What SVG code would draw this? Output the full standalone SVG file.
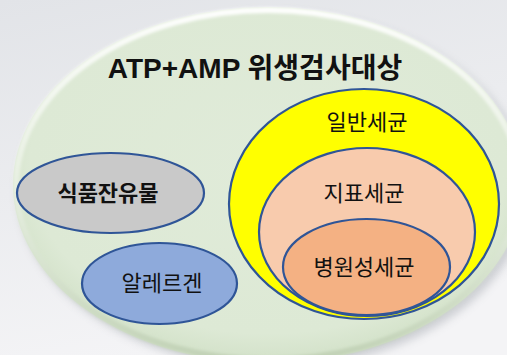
<svg xmlns="http://www.w3.org/2000/svg" width="507" height="355" viewBox="0 0 507 355">
<style>
.node{stroke:#2f5597;stroke-width:2.2}
.t{font-family:"Liberation Sans","Noto Sans CJK KR",sans-serif;fill:#111;text-anchor:middle;font-size:22px}
.b{font-weight:bold}
</style>
<defs>
<linearGradient id="bg" x1="0" y1="0" x2="0.3" y2="1">
<stop offset="0" stop-color="#e2e4e8"/>
<stop offset="1" stop-color="#f4f4f6"/>
</linearGradient>
<radialGradient id="plate" cx="0.5" cy="0.45" r="0.55">
<stop offset="0" stop-color="#e0ebd9"/>
<stop offset="0.85" stop-color="#dde9d5"/>
<stop offset="1" stop-color="#d2e1c8"/>
</radialGradient>
<linearGradient id="rim" x1="0" y1="0" x2="0" y2="1">
<stop offset="0" stop-color="#ffffff" stop-opacity="0.95"/>
<stop offset="0.45" stop-color="#f4f8f1" stop-opacity="0.6"/>
<stop offset="1" stop-color="#bccdb0" stop-opacity="0.8"/>
</linearGradient>
<filter id="blur" x="-10%" y="-10%" width="120%" height="120%"><feGaussianBlur stdDeviation="4"/></filter>
<filter id="soft" x="-10%" y="-10%" width="120%" height="120%"><feGaussianBlur stdDeviation="1.5"/></filter>
</defs>
<rect width="507" height="355" fill="url(#bg)"/>
<g id="plate-group">
<ellipse cx="273" cy="190" rx="255" ry="178" fill="#9ea3aa" opacity="0.45" filter="url(#blur)"/>
<ellipse cx="268" cy="185" rx="255" ry="178" fill="url(#plate)"/>
<ellipse cx="268" cy="185" rx="252" ry="175" fill="none" stroke="url(#rim)" stroke-width="6" filter="url(#soft)"/>
<text class="t b" x="255" y="78" style="font-size:28px">ATP+AMP 위생검사대상</text>
</g>
<g id="connectors"></g>
<g id="food-residue">
<ellipse class="node" cx="110.5" cy="193" rx="93.5" ry="40" fill="#c9c9c9"/>
<text class="t b" x="108" y="201">식품잔유물</text>
</g>
<g id="allergen">
<ellipse class="node" cx="159.5" cy="283.5" rx="77.5" ry="40.5" fill="#8eaadb"/>
<text class="t" x="162" y="291">알레르겐</text>
</g>
<g id="general-bacteria">
<ellipse class="node" cx="364" cy="204" rx="135" ry="115" fill="#ffff00"/>
<text class="t" x="367" y="130">일반세균</text>
</g>
<g id="indicator-bacteria">
<ellipse class="node" cx="367" cy="232" rx="108" ry="84" fill="#f8cbad"/>
<text class="t" x="364" y="201">지표세균</text>
</g>
<g id="pathogenic-bacteria">
<ellipse class="node" cx="366.5" cy="267" rx="83.5" ry="48" fill="#f4b183"/>
<text class="t" x="364" y="275">병원성세균</text>
</g>
</svg>
